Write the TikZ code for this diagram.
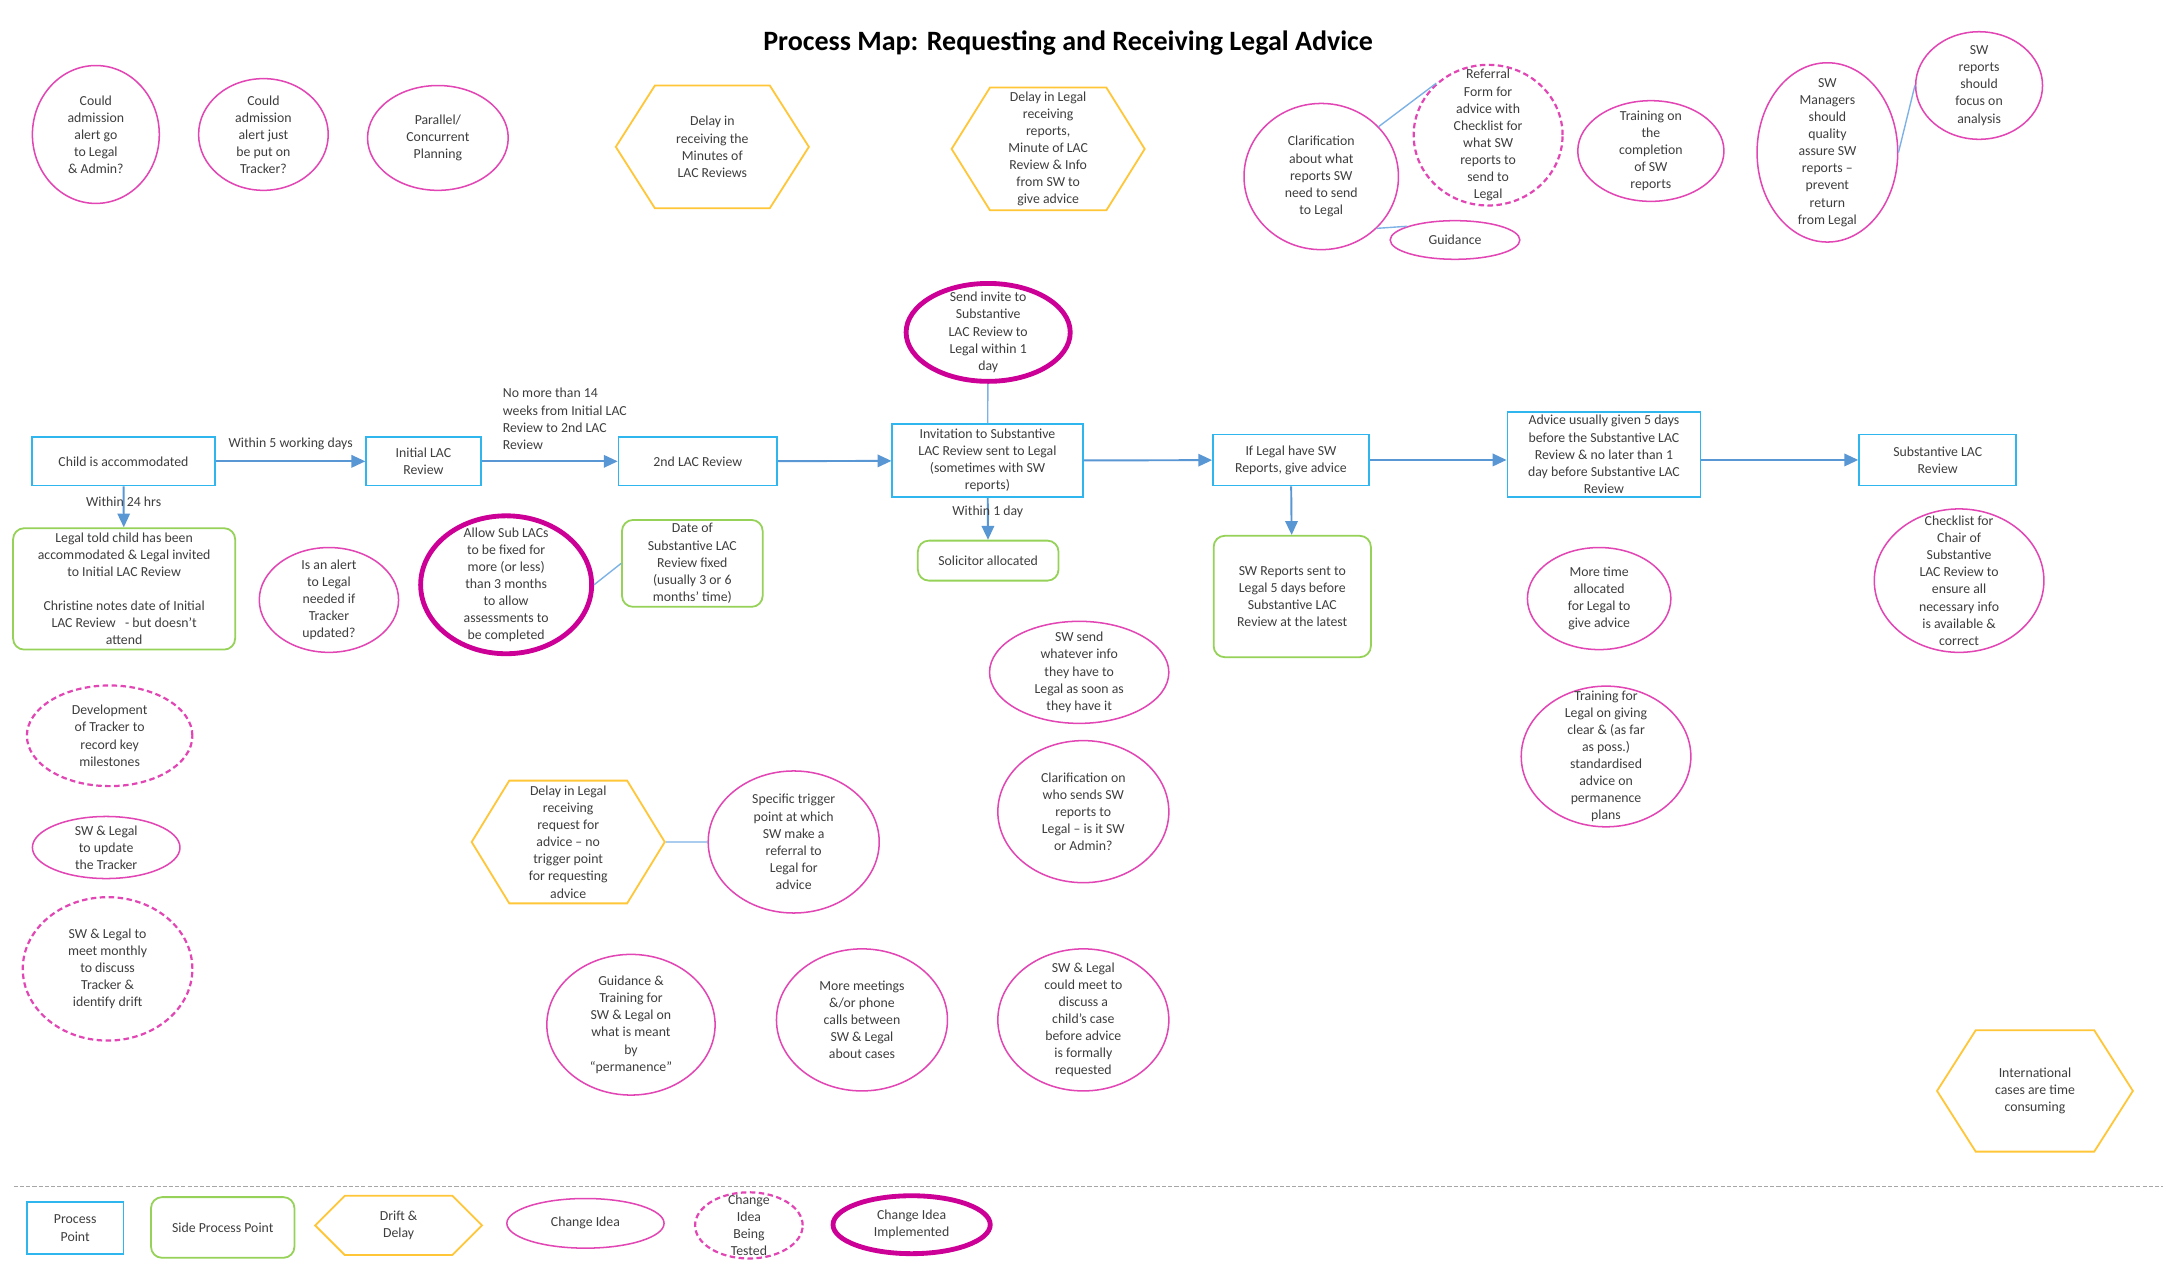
\documentclass[tikz,border=0pt]{standalone}
\usepackage{fontspec}
\setmainfont{Carlito}
\usepackage{xcolor}
\usepackage{tikz}
\usetikzlibrary{shapes.geometric,shapes.symbols,arrows.meta}

\definecolor{procblue}{RGB}{48,182,238}
\definecolor{sidegreen}{RGB}{150,210,88}
\definecolor{driftgold}{RGB}{255,198,56}
\definecolor{ideapink}{RGB}{226,70,180}
\definecolor{donepink}{RGB}{204,0,150}
\definecolor{flowblue}{RGB}{88,150,212}
\definecolor{linkblue}{RGB}{125,178,230}
\definecolor{txtgray}{RGB}{62,62,62}

\begin{document}
\begin{tikzpicture}[x=1pt,y=-1pt,
	every node/.style={font=\fontsize{10}{12.4}\selectfont,text=txtgray,align=center},
	dims/.style 2 args={minimum width=#1,minimum height=#2},
	proc/.style={draw=procblue,line width=1.3pt,inner sep=1pt},
	side/.style={draw=sidegreen,line width=1.3pt,rounded corners=8pt,inner sep=1pt},
	drift/.style={signal,signal to=west and east,signal pointer angle=116,draw=driftgold,line width=1.3pt,inner sep=0pt},
	idea/.style={ellipse,draw=ideapink,line width=1.1pt,inner sep=0pt},
	tested/.style={idea,line width=1.6pt,dash pattern=on 4pt off 2.5pt},
	done/.style={ellipse,draw=donepink,line width=3.5pt,inner sep=0pt},
	says/.style={label={center:#1}},
	flow/.style={draw=flowblue,line width=1.4pt,-{Triangle[length=10pt,width=9pt]}},
	link/.style={draw=linkblue,line width=1pt}]

	\path[fill=white] (0,0) rectangle (1568,914);

	\node[font=\fontsize{20.3}{23}\selectfont\bfseries,text=black] (title) at (774.5,31) {Process Map: Requesting and Receiving Legal Advice};

	% top row
	\node[idea,dims={92}{100},says={Could\\admission\\alert go\\to Legal\\\& Admin?}] (admlegal) at (69.5,97.5) {};
	\node[idea,dims={94}{81},says={Could\\admission\\alert just\\be put on\\Tracker?}] (admtracker) at (191,97.5) {};
	\node[idea,dims={102}{76},says={Parallel/\\Concurrent\\Planning}] (parallel) at (317.5,100) {};
	\node[drift,dims={140}{89},signal pointer angle=115] (minutes) at (516.5,106.5) {Delay in\\receiving the\\Minutes of\\LAC Reviews};
	\node[drift,dims={140}{89}] (reports) at (760,108) {Delay in Legal\\receiving\\reports,\\Minute of LAC\\Review \& Info\\from SW to\\give advice};
	\node[idea,dims={112}{106},says={Clarification\\about what\\reports SW\\need to send\\to Legal}] (clarify) at (958,128) {};
	\node[tested,dims={108}{102},says={Referral\\Form for\\advice with\\Checklist for\\what SW\\reports to\\send to\\Legal}] (referral) at (1079,98) {};
	\node[idea,dims={106}{73},says={Training on\\the\\completion\\of SW\\reports}] (training) at (1197,109.5) {};
	\node[idea,dims={94}{28},says={Guidance}] (guidance) at (1055,174) {};
	\node[idea,dims={102}{130},says={SW\\Managers\\should\\quality\\assure SW\\reports –\\prevent\\return\\from Legal}] (managers) at (1325,110.5) {};
	\node[idea,dims={92}{78},says={SW\\reports\\should\\focus on\\analysis}] (analysis) at (1435,62) {};

	\draw[link] (clarify.41) -- (referral.135);
	\draw[link] (clarify.317) -- (guidance.164);
	\draw[link] (managers.east) -- (analysis.west);

	% main process row
	\node[proc,dims={133}{35}] (child) at (89.5,334.5) {Child is accommodated};
	\node[proc,dims={83}{35}] (initial) at (307,334.5) {Initial LAC\\Review};
	\node[proc,dims={115}{35}] (second) at (506,334.5) {2nd LAC Review};
	\node[proc,dims={138}{53}] (invitation) at (716,334) {Invitation to Substantive\\LAC Review sent to Legal\\(sometimes with SW\\reports)};
	\node[proc,dims={113}{37}] (iflegal) at (936,333.5) {If Legal have SW\\Reports, give advice};
	\node[proc,dims={140}{62}] (advice) at (1163,329.5) {Advice usually given 5 days\\before the Substantive LAC\\Review \& no later than 1\\day before Substantive LAC\\Review};
	\node[proc,dims={114}{37}] (substantive) at (1405,333.5) {Substantive LAC\\Review};

	\draw[flow] (child) -- node[above=4pt] {Within 5 working days} (initial);
	\draw[flow] (initial) -- node[pos=0.14,anchor=south west,align=left,yshift=7pt,inner sep=1pt] {No more than 14\\weeks from Initial LAC\\Review to 2nd LAC\\Review} (second);
	\draw[flow] (second) -- (invitation);
	\draw[flow] (invitation) -- (iflegal);
	\draw[flow] (iflegal.east) -- (iflegal.east -| advice.west);
	\draw[flow] (advice.east |- substantive.west) -- (substantive.west);

	% side process points
	\node[side,dims={161}{88}] (toldlegal) at (90,427) {Legal told child has been\\accommodated \& Legal invited\\to Initial LAC Review\\[12.4pt]Christine notes date of Initial\\LAC Review \ \ - but doesn’t\\attend};
	\draw[flow] (child) -- node[pos=0.38] {Within 24 hrs} (toldlegal);
	\node[side,dims={102}{63}] (datefixed) at (502,408.5) {Date of\\Substantive LAC\\Review fixed\\(usually 3 or 6\\months’ time)};
	\node[side,dims={102}{29}] (solicitor) at (716.5,406.5) {Solicitor allocated};
	\draw[flow] (invitation) -- node[pos=0.32] {Within 1 day} (solicitor);
	\node[side,dims={114}{88}] (swsent) at (937,432.5) {SW Reports sent to\\Legal 5 days before\\Substantive LAC\\Review at the latest};
	\draw[flow] (iflegal) -- (swsent);

	\node[done,dims={119}{71},says={Send invite to\\Substantive\\LAC Review to\\Legal within 1\\day}] (sendinvite) at (716.5,241) {};
	\draw[link] (sendinvite) -- (invitation);

	% change ideas below the process
	\node[idea,dims={101}{76},says={Is an alert\\to Legal\\needed if\\Tracker\\updated?}] (alerttracker) at (238.5,435) {};
	\node[done,dims={124}{100},says={Allow Sub LACs\\to be fixed for\\more (or less)\\than 3 months\\to allow\\assessments to\\be completed}] (allowsub) at (367,424) {};
	\draw[link] (allowsub.east) -- (datefixed.west);
	\node[idea,dims={130}{74},says={SW send\\whatever info\\they have to\\Legal as soon as\\they have it}] (sendinfo) at (782.5,487.5) {};
	\node[idea,dims={124}{103},says={Clarification on\\who sends SW\\reports to\\Legal – is it SW\\or Admin?}] (whosends) at (785.5,588.5) {};
	\node[idea,dims={104}{74},says={More time\\allocated\\for Legal to\\give advice}] (moretime) at (1159.5,434) {};
	\node[idea,dims={123}{104},says={Checklist for\\Chair of\\Substantive\\LAC Review to\\ensure all\\necessary info\\is available \&\\correct}] (checklist) at (1420.5,421) {};
	\node[idea,dims={123}{102},says={Training for\\Legal on giving\\clear \& (as far\\as poss.)\\standardised\\advice on\\permanence\\plans}] (legaltraining) at (1164.5,548.5) {};

	\node[tested,dims={120}{73},says={Development\\of Tracker to\\record key\\milestones}] (devtracker) at (79.5,533.5) {};
	\node[idea,dims={107}{45},says={SW \& Legal\\to update\\the Tracker}] (updtracker) at (77,614.5) {};
	\node[tested,dims={123}{104},says={SW \& Legal to\\meet monthly\\to discuss\\Tracker \&\\identify drift}] (monthly) at (78,702.5) {};

	\node[drift,dims={140}{89},signal pointer angle=117] (request) at (412,610.5) {Delay in Legal\\receiving\\request for\\advice – no\\trigger point\\for requesting\\advice};
	\node[idea,dims={124}{103},says={Specific trigger\\point at which\\SW make a\\referral to\\Legal for\\advice}] (trigger) at (575.5,610.5) {};
	\draw[link] (request) -- (trigger);
	\node[idea,dims={122}{102},says={Guidance \&\\Training for\\SW \& Legal on\\what is meant\\by\\“permanence”}] (permanence) at (457.5,743) {};
	\node[idea,dims={124}{103},says={More meetings\\\&/or phone\\calls between\\SW \& Legal\\about cases}] (meetings) at (625,739.5) {};
	\node[idea,dims={124}{103},says={SW \& Legal\\could meet to\\discuss a\\child’s case\\before advice\\is formally\\requested}] (meetcase) at (785.5,739.5) {};
	\node[drift,dims={142}{88},signal pointer angle=115] (international) at (1475.5,791) {International\\cases are time\\consuming};

	% key
	\draw[gray!70,line width=0.7pt,dash pattern=on 3pt off 1.5pt] (10,860.5) -- (1568,860.5);
	\node[proc,dims={70}{38}] (keyproc) at (54.5,890.5) {Process\\Point};
	\node[side,dims={104}{44}] (keyside) at (161.5,890) {Side Process Point};
	\node[drift,dims={121}{43},signal pointer angle=90] (keydrift) at (289,888.5) {Drift \&\\Delay};
	\node[idea,dims={114}{36},says={Change Idea}] (keyidea) at (424.5,887) {};
	\node[tested,dims={78}{48},says={Change\\Idea\\Being\\Tested}] (keytested) at (543,888.5) {};
	\node[done,dims={114}{42},says={Change Idea\\Implemented}] (keydone) at (661,888) {};
\end{tikzpicture}
\end{document}
